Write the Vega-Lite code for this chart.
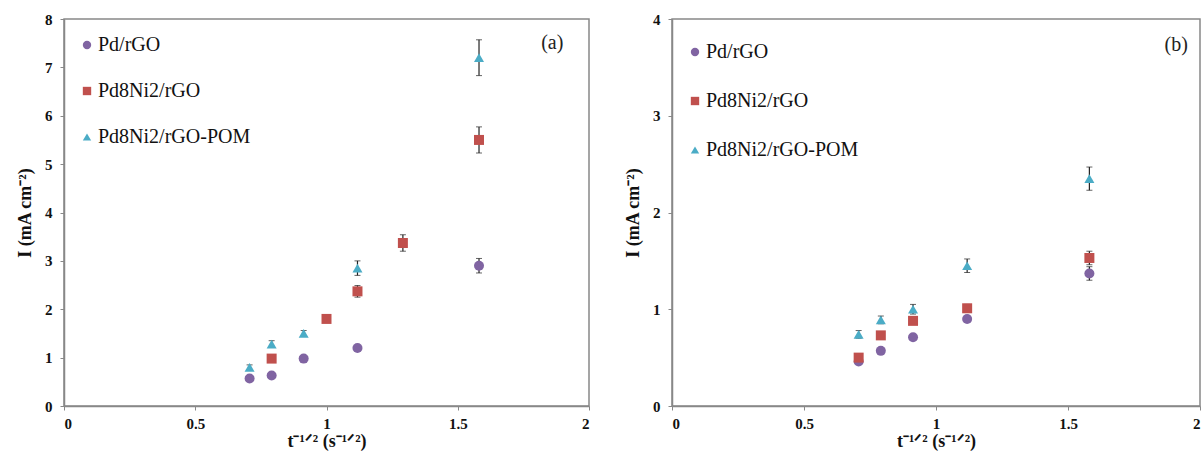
{
  "$schema": "https://vega.github.io/schema/vega-lite/v6.json",
  "background": "white",
  "padding": {"left": 15, "top": 11, "right": 0, "bottom": 0},
  "spacing": 32,
  "datasets": {
    "a": [
      {"series": "Pd/rGO", "t": 0.707, "I": 0.57, "err": 0},
      {"series": "Pd/rGO", "t": 0.791, "I": 0.63, "err": 0},
      {"series": "Pd/rGO", "t": 0.913, "I": 0.98, "err": 0},
      {"series": "Pd/rGO", "t": 1.118, "I": 1.2, "err": 0},
      {"series": "Pd/rGO", "t": 1.581, "I": 2.9, "err": 0.15},
      {"series": "Pd8Ni2/rGO", "t": 0.791, "I": 0.98, "err": 0},
      {"series": "Pd8Ni2/rGO", "t": 1.0, "I": 1.8, "err": 0.04},
      {"series": "Pd8Ni2/rGO", "t": 1.118, "I": 2.37, "err": 0.12},
      {"series": "Pd8Ni2/rGO", "t": 1.291, "I": 3.37, "err": 0.17},
      {"series": "Pd8Ni2/rGO", "t": 1.581, "I": 5.5, "err": 0.27},
      {"series": "Pd8Ni2/rGO-POM", "t": 0.707, "I": 0.8, "err": 0.05},
      {"series": "Pd8Ni2/rGO-POM", "t": 0.791, "I": 1.28, "err": 0.07},
      {"series": "Pd8Ni2/rGO-POM", "t": 0.913, "I": 1.5, "err": 0.06},
      {"series": "Pd8Ni2/rGO-POM", "t": 1.118, "I": 2.85, "err": 0.15},
      {"series": "Pd8Ni2/rGO-POM", "t": 1.581, "I": 7.2, "err": 0.37}
    ],
    "b": [
      {"series": "Pd/rGO", "t": 0.707, "I": 0.46, "err": 0},
      {"series": "Pd/rGO", "t": 0.791, "I": 0.57, "err": 0},
      {"series": "Pd/rGO", "t": 0.913, "I": 0.71, "err": 0},
      {"series": "Pd/rGO", "t": 1.118, "I": 0.9, "err": 0.03},
      {"series": "Pd/rGO", "t": 1.581, "I": 1.37, "err": 0.07},
      {"series": "Pd8Ni2/rGO", "t": 0.707, "I": 0.5, "err": 0},
      {"series": "Pd8Ni2/rGO", "t": 0.791, "I": 0.73, "err": 0},
      {"series": "Pd8Ni2/rGO", "t": 0.913, "I": 0.88, "err": 0},
      {"series": "Pd8Ni2/rGO", "t": 1.118, "I": 1.01, "err": 0.04},
      {"series": "Pd8Ni2/rGO", "t": 1.581, "I": 1.53, "err": 0.07},
      {"series": "Pd8Ni2/rGO-POM", "t": 0.707, "I": 0.74, "err": 0.04},
      {"series": "Pd8Ni2/rGO-POM", "t": 0.791, "I": 0.89, "err": 0.04},
      {"series": "Pd8Ni2/rGO-POM", "t": 0.913, "I": 1.0, "err": 0.05},
      {"series": "Pd8Ni2/rGO-POM", "t": 1.118, "I": 1.45, "err": 0.07},
      {"series": "Pd8Ni2/rGO-POM", "t": 1.581, "I": 2.35, "err": 0.12}
    ],
    "labA": [{"label": "(a)", "t": 1.86, "I": 7.5}],
    "labB": [{"label": "(b)", "t": 1.91, "I": 3.73}]
  },
  "resolve": {"legend": {"shape": "independent", "color": "independent"}},
  "hconcat": [
    {
      "width": 525,
      "height": 387,
      "layer": [
        {
          "data": {"name": "a"},
          "transform": [{"filter": "datum.err > 0"}],
          "mark": {"type": "errorbar", "ticks": {"color": "#222222", "size": 6}, "rule": {"color": "#222222", "strokeWidth": 1.2}},
          "encoding": {
            "x": {"field": "t", "type": "quantitative", "title": "t⁻¹ᐟ² (s⁻¹ᐟ²)"},
            "y": {"field": "I", "type": "quantitative", "title": "I (mA cm⁻²)"},
            "yError": {"field": "err"}
          }
        },
        {
          "data": {"name": "a"},
          "mark": {"type": "point", "filled": true, "opacity": 1, "size": 100},
          "encoding": {
            "x": {"field": "t", "type": "quantitative", "scale": {"domain": [0, 2]}, "title": "t⁻¹ᐟ² (s⁻¹ᐟ²)", "axis": {"values": [0, 0.5, 1, 1.5, 2], "format": "~g"}},
            "y": {"field": "I", "type": "quantitative", "scale": {"domain": [0, 8]}, "title": "I (mA cm⁻²)", "axis": {"values": [0, 1, 2, 3, 4, 5, 6, 7, 8], "format": "~g"}},
            "color": {"field": "series", "type": "nominal", "scale": {"domain": ["Pd/rGO", "Pd8Ni2/rGO", "Pd8Ni2/rGO-POM"], "range": ["#8064A2", "#C0504D", "#4BACC6"]}, "legend": {"title": null, "orient": "none", "legendX": 13, "legendY": 16}},
            "shape": {"field": "series", "type": "nominal", "scale": {"domain": ["Pd/rGO", "Pd8Ni2/rGO", "Pd8Ni2/rGO-POM"], "range": ["circle", "square", "triangle-up"]}, "legend": {"title": null, "orient": "none", "legendX": 13, "legendY": 16}}
          }
        },
        {
          "data": {"name": "labA"},
          "mark": {"type": "text", "font": "Liberation Serif", "fontSize": 20, "color": "#222222"},
          "encoding": {
            "x": {"field": "t", "type": "quantitative"},
            "y": {"field": "I", "type": "quantitative"},
            "text": {"field": "label"}
          }
        }
      ]
    },
    {
      "width": 528,
      "height": 387,
      "layer": [
        {
          "data": {"name": "b"},
          "transform": [{"filter": "datum.err > 0"}],
          "mark": {"type": "errorbar", "ticks": {"color": "#222222", "size": 6}, "rule": {"color": "#222222", "strokeWidth": 1.2}},
          "encoding": {
            "x": {"field": "t", "type": "quantitative", "title": "t⁻¹ᐟ² (s⁻¹ᐟ²)"},
            "y": {"field": "I", "type": "quantitative", "title": "I (mA cm⁻²)"},
            "yError": {"field": "err"}
          }
        },
        {
          "data": {"name": "b"},
          "mark": {"type": "point", "filled": true, "opacity": 1, "size": 100},
          "encoding": {
            "x": {"field": "t", "type": "quantitative", "scale": {"domain": [0, 2]}, "title": "t⁻¹ᐟ² (s⁻¹ᐟ²)", "axis": {"values": [0, 0.5, 1, 1.5, 2], "format": "~g"}},
            "y": {"field": "I", "type": "quantitative", "scale": {"domain": [0, 4]}, "title": "I (mA cm⁻²)", "axis": {"values": [0, 1, 2, 3, 4], "format": "~g"}},
            "color": {"field": "series", "type": "nominal", "scale": {"domain": ["Pd/rGO", "Pd8Ni2/rGO", "Pd8Ni2/rGO-POM"], "range": ["#8064A2", "#C0504D", "#4BACC6"]}, "legend": {"title": null, "orient": "none", "legendX": 13, "legendY": 23, "rowPadding": 29}},
            "shape": {"field": "series", "type": "nominal", "scale": {"domain": ["Pd/rGO", "Pd8Ni2/rGO", "Pd8Ni2/rGO-POM"], "range": ["circle", "square", "triangle-up"]}, "legend": {"title": null, "orient": "none", "legendX": 13, "legendY": 23, "rowPadding": 29}}
          }
        },
        {
          "data": {"name": "labB"},
          "mark": {"type": "text", "font": "Liberation Serif", "fontSize": 20, "color": "#222222"},
          "encoding": {
            "x": {"field": "t", "type": "quantitative"},
            "y": {"field": "I", "type": "quantitative"},
            "text": {"field": "label"}
          }
        }
      ]
    }
  ],
  "config": {
    "font": "Liberation Serif",
    "view": {"stroke": "#888888", "strokeWidth": 1.5},
    "axis": {
      "grid": false,
      "domainColor": "#888888",
      "domainWidth": 1.5,
      "tickColor": "#888888",
      "tickSize": 4,
      "labelFont": "Liberation Serif",
      "labelFontSize": 15,
      "labelFontWeight": "bold",
      "labelColor": "#111111",
      "titleFont": "Liberation Serif",
      "titleFontSize": 18,
      "titleFontWeight": "bold",
      "titleColor": "#111111"
    },
    "axisX": {"labelPadding": 6, "titlePadding": 1},
    "axisY": {"labelPadding": 8, "titlePadding": 10},
    "legend": {
      "labelFont": "Liberation Serif",
      "labelFontSize": 20,
      "labelFontWeight": "normal",
      "labelColor": "#111111",
      "rowPadding": 26,
      "symbolSize": 70,
      "symbolStrokeWidth": 0,
      "labelOffset": 1,
      "labelLimit": 300
    }
  }
}
